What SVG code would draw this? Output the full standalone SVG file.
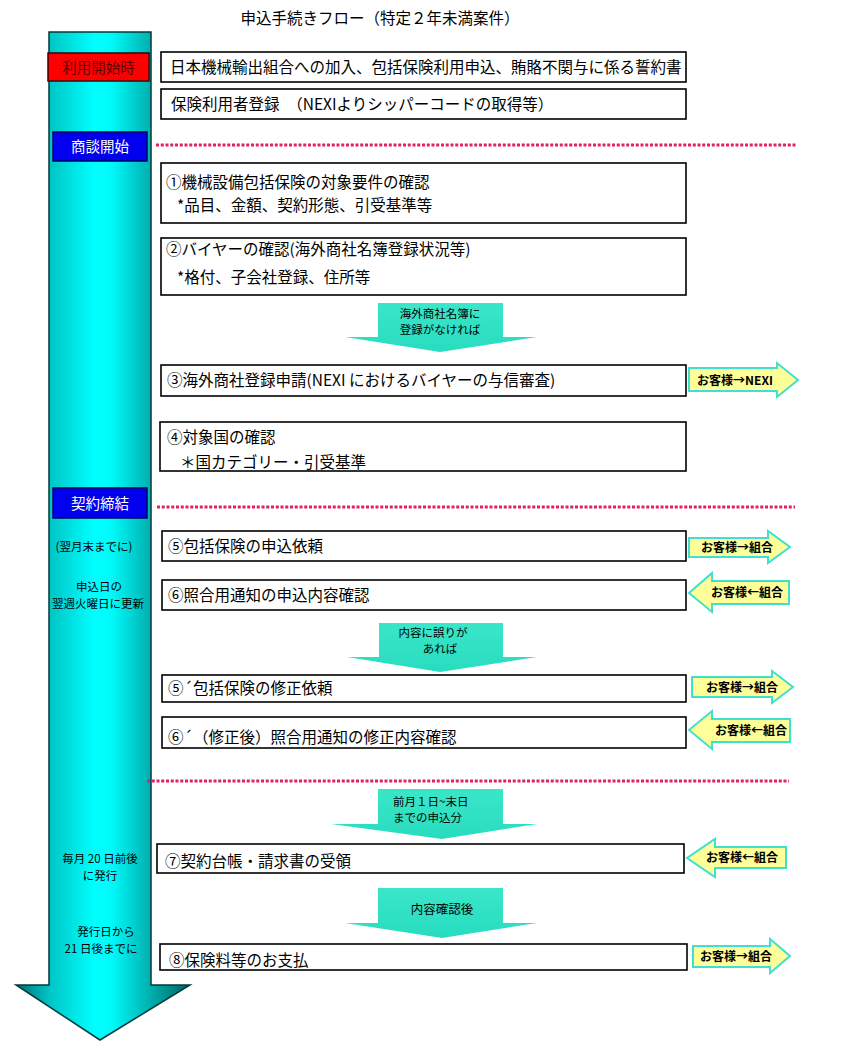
<svg xmlns="http://www.w3.org/2000/svg" width="850" height="1057" viewBox="0 0 850 1057">
<defs>
<linearGradient id="bigG" x1="16" y1="0" x2="190" y2="0" gradientUnits="userSpaceOnUse">
<stop offset="0" stop-color="#006e6e"/>
<stop offset="0.19" stop-color="#00c4c4"/>
<stop offset="0.45" stop-color="#00ffff"/>
<stop offset="0.55" stop-color="#00fafa"/>
<stop offset="0.77" stop-color="#00b0b0"/>
<stop offset="1" stop-color="#006060"/>
</linearGradient>
<linearGradient id="tealG" x1="0" y1="0" x2="0" y2="1">
<stop offset="0" stop-color="#3ae6c8"/>
<stop offset="1" stop-color="#28dcc0"/>
</linearGradient>
<style>
.box{fill:#fff;stroke:#000;stroke-width:1.6}
.t{font-family:"Noto Sans CJK JP","Noto Sans CJK SC",sans-serif;font-size:15.5px;fill:#000}
.s{font-family:"Noto Sans CJK JP","Noto Sans CJK SC",sans-serif;font-size:11.5px;fill:#000;text-anchor:middle}
.a{font-family:"Noto Sans CJK JP","Noto Sans CJK SC",sans-serif;font-size:11.5px;fill:#000}
.y{fill:#ffff99;stroke:#40e0d0;stroke-width:2}
.yt{font-family:"Noto Sans CJK JP","Noto Sans CJK SC",sans-serif;font-size:12px;font-weight:bold;fill:#000;text-anchor:middle}
.teal{fill:url(#tealG)}
.dot{stroke:#e0206a;stroke-width:3;stroke-dasharray:3 1.75;fill:none}
.lab{font-family:"Noto Sans CJK JP","Noto Sans CJK SC",sans-serif;font-size:14.5px;text-anchor:middle}
</style>
</defs>
<rect width="850" height="1057" fill="#fff"/>
<text x="380" y="24" text-anchor="middle" style="font-family:'Noto Sans CJK JP','Noto Sans CJK SC',sans-serif;font-size:15.5px">申込手続きフロー（特定２年未満案件）</text>

<g id="timeline">
<path d="M49,32 H151 V985 H190 L100,1040 L16,985 H49 Z" fill="url(#bigG)" stroke="#003a3a" stroke-width="1.5"/>
</g>

<g id="connectors">
<path class="dot" d="M156,145 H796"/>
<path class="dot" d="M157,507 H795"/>
<path class="dot" d="M147,781 H789"/>
<g id="down1">
<path class="teal" d="M378,303 H503 V337 H537 L440,352 L345,337 H378 Z"/>
<text class="a" x="440" y="318" text-anchor="middle">海外商社名簿に</text>
<text class="a" x="440" y="334" text-anchor="middle">登録がなければ</text>
</g>
<g id="down2">
<path class="teal" d="M379,623 H503 V657 H537 L440,672 L347,657 H379 Z"/>
<text class="a" x="433" y="637" text-anchor="middle">内容に誤りが</text>
<text class="a" x="440" y="653" text-anchor="middle">あれば</text>
</g>
<g id="down3">
<path class="teal" d="M378,789 H503 V824 H537 L442,839 L331,824 H378 Z"/>
<text class="a" x="393" y="806">前月１日~末日</text>
<text class="a" x="393" y="822">までの申込分</text>
</g>
<g id="down4">
<path class="teal" d="M378,888 H503 V923 H537 L442,938 L345,923 H378 Z"/>
<text class="a" x="442" y="914" text-anchor="middle" style="font-size:12.5px">内容確認後</text>
</g>
</g>

<g id="phase-start">
<rect x="48" y="53" width="101" height="28" fill="#ff0000" stroke="#400000" stroke-width="1.5"/>
<text class="lab" x="98.5" y="72.5" fill="#5a0000">利用開始時</text>
</g>
<g id="phase-negotiation">
<rect x="53" y="132" width="94" height="29" fill="#0000ee" stroke="#000060" stroke-width="1.5"/>
<text class="lab" x="100" y="152" fill="#fff">商談開始</text>
</g>
<g id="phase-contract">
<rect x="53" y="488" width="94" height="30" fill="#0000ee" stroke="#000060" stroke-width="1.5"/>
<text class="lab" x="100" y="508.5" fill="#fff">契約締結</text>
</g>

<g id="note-1">
<text class="s" x="94" y="551">(翌月末までに)</text>
</g>
<g id="note-2">
<text class="s" x="99" y="591">申込日の</text>
<text class="s" x="98" y="608">翌週火曜日に更新</text>
</g>
<g id="note-3">
<text class="s" x="100" y="863">毎月 20 日前後</text>
<text class="s" x="100" y="880">に発行</text>
</g>
<g id="note-4">
<text class="s" x="106" y="936">発行日から</text>
<text class="s" x="101" y="953">21 日後までに</text>
</g>

<g id="step-join">
<rect class="box" x="161" y="52" width="525" height="30"/>
<text class="t" x="170" y="72.5">日本機械輸出組合への加入、包括保険利用申込、賄賂不関与に係る誓約書</text>
</g>
<g id="step-register">
<rect class="box" x="161" y="89" width="525" height="30"/>
<text class="t" x="171" y="109.5">保険利用者登録　（NEXIよりシッパーコードの取得等）</text>
</g>
<g id="step-1">
<rect class="box" x="161" y="163" width="525" height="60"/>
<text class="t" x="166" y="188">①機械設備包括保険の対象要件の確認</text>
<text class="t" x="177" y="211">*品目、金額、契約形態、引受基準等</text>
</g>
<g id="step-2">
<rect class="box" x="161" y="238" width="525" height="57"/>
<text class="t" x="166" y="254.5">②バイヤーの確認(海外商社名簿登録状況等)</text>
<text class="t" x="177" y="282.5">*格付、子会社登録、住所等</text>
</g>
<g id="step-3">
<rect class="box" x="161" y="365" width="525" height="31"/>
<text class="t" x="167" y="386">③海外商社登録申請(NEXI におけるバイヤーの与信審査)</text>
</g>
<g id="step-4">
<rect class="box" x="160" y="422" width="526" height="49"/>
<text class="t" x="167" y="442.5">④対象国の確認</text>
<text class="t" x="180" y="468">＊国カテゴリー・引受基準</text>
</g>
<g id="step-5">
<rect class="box" x="162" y="531" width="524" height="30"/>
<text class="t" x="168" y="551.5">⑤包括保険の申込依頼</text>
</g>
<g id="step-6">
<rect class="box" x="162" y="580" width="524" height="30"/>
<text class="t" x="168" y="600.5">⑥照合用通知の申込内容確認</text>
</g>
<g id="step-5b">
<rect class="box" x="162" y="675" width="524" height="27"/>
<text class="t" x="168" y="694">⑤´包括保険の修正依頼</text>
</g>
<g id="step-6b">
<rect class="box" x="162" y="717" width="524" height="31"/>
<text class="t" x="168" y="743">⑥´（修正後）照合用通知の修正内容確認</text>
</g>
<g id="step-7">
<rect class="box" x="157" y="844" width="527" height="29"/>
<text class="t" x="165" y="866.5">⑦契約台帳・請求書の受領</text>
</g>
<g id="step-8">
<rect class="box" x="160" y="944" width="527" height="26"/>
<text class="t" x="169" y="965.5">⑧保険料等のお支払</text>
</g>

<g id="flow-nexi">
<path class="y" d="M689,368 H777 V363 L798,380 L777,397 V391 H689 Z"/>
<text class="yt" x="735" y="384.5">お客様→NEXI</text>
</g>
<g id="flow-5">
<path class="y" d="M689,538 H768 V531 L790,547 L768,563 V557 H689 Z"/>
<text class="yt" x="737" y="552">お客様→組合</text>
</g>
<g id="flow-6">
<path class="y" d="M789,581 H712 V573 L689,593 L712,612 V604 H789 Z"/>
<text class="yt" x="747" y="597">お客様←組合</text>
</g>
<g id="flow-5b">
<path class="y" d="M692,677 H772 V671 L793,687 L772,703 V697 H692 Z"/>
<text class="yt" x="742" y="691.5">お客様→組合</text>
</g>
<g id="flow-6b">
<path class="y" d="M790,719 H712 V711 L689,730 L712,749 V742 H790 Z"/>
<text class="yt" x="751" y="734.5">お客様←組合</text>
</g>
<g id="flow-7">
<path class="y" d="M786,847 H715 V839 L687,858 L715,877 V868 H786 Z"/>
<text class="yt" x="742" y="862">お客様←組合</text>
</g>
<g id="flow-8">
<path class="y" d="M693,946 H770 V939 L790,956 L770,973 V967 H693 Z"/>
<text class="yt" x="736" y="960.5">お客様→組合</text>
</g>
</svg>
